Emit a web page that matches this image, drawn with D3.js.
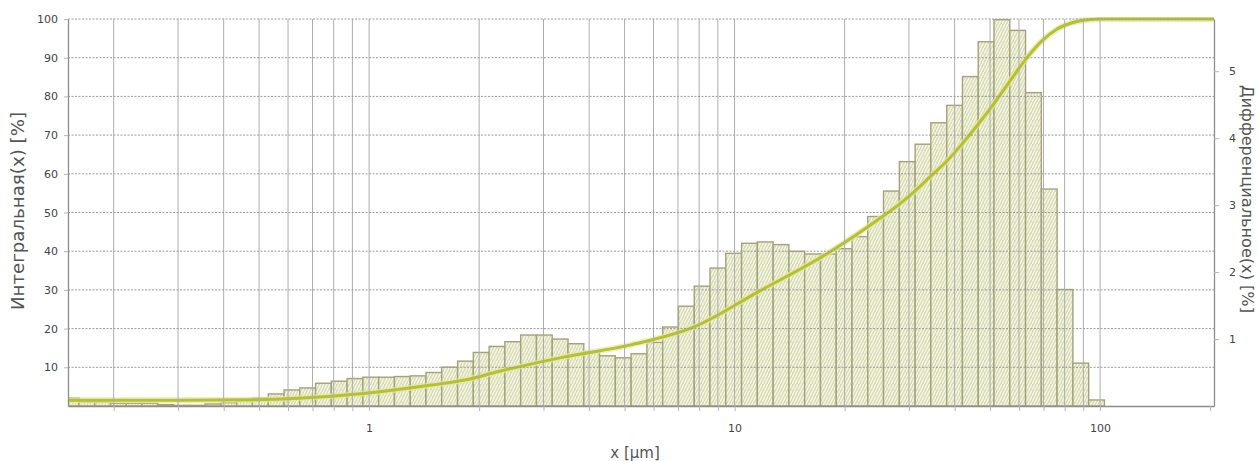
<!DOCTYPE html>
<html>
<head>
<meta charset="utf-8">
<script src="https://cdn.jsdelivr.net/npm/d3@7"></script>
<style>
  body { margin: 0; background: #fff; }
  svg text { font-family: "DejaVu Sans", Verdana, sans-serif; }
</style>
</head>
<body>
<svg id="chart"></svg>
<script>
// bin edges of the histogram [um]
const binEdges = [0.1455, 0.1607, 0.1775, 0.1960, 0.2165, 0.2391, 0.2641, 0.2917, 0.3222, 0.3558,
  0.3930, 0.4341, 0.4794, 0.5297, 0.5850, 0.6461, 0.7137, 0.7882, 0.8705, 0.9616,
  1.062, 1.173, 1.296, 1.431, 1.580, 1.746, 1.928, 2.130, 2.352, 2.598,
  2.870, 3.170, 3.501, 3.867, 4.271, 4.718, 5.211, 5.755, 6.357, 7.021,
  7.755, 8.565, 9.460, 10.45, 11.54, 12.75, 14.08, 15.55, 17.18, 18.97,
  20.96, 23.14, 25.56, 28.24, 31.19, 34.44, 38.05, 42.02, 46.41, 51.26,
  56.62, 62.53, 69.07, 76.29, 84.26, 93.07, 102.8];

// differential values per bin [%] (right axis)
const diffValues = [0.12, 0.06, 0.06, 0.04, 0.04, 0.04, 0.02, 0.01, 0.01, 0.03,
  0.05, 0.08, 0.12, 0.18, 0.24, 0.27, 0.34, 0.37, 0.41, 0.43,
  0.43, 0.44, 0.45, 0.50, 0.58, 0.67, 0.80, 0.89, 0.96, 1.06,
  1.06, 1.00, 0.93, 0.81, 0.75, 0.72, 0.78, 0.95, 1.18, 1.49,
  1.79, 2.06, 2.28, 2.43, 2.45, 2.41, 2.31, 2.27, 2.27, 2.35,
  2.53, 2.83, 3.21, 3.65, 3.91, 4.23, 4.49, 4.92, 5.44, 5.77,
  5.61, 4.68, 3.24, 1.74, 0.64, 0.09];

// cumulative curve (left axis)
const cumX = [0.145, 0.3, 0.47, 0.64, 0.98, 1.48, 1.83, 2.26, 3.43, 5.2,
  7.78, 11.6, 18.3, 25, 28.2, 31.2, 34.4, 38.1, 42.0, 46.4, 51.3, 56.6, 62.5,
  69.1, 76.3, 84.3, 93, 100, 205];
const cumY = [1.5, 1.5, 1.6, 2.0, 3.3, 5.4, 6.7, 8.9, 12.7, 15.8,
  20.5, 29.5, 39.9, 48.5, 52.1, 55.6, 59.4, 63.3, 67.8, 72.8, 78.2, 83.9, 89.5,
  94.2, 97.4, 99.1, 99.8, 100, 100];

const leftTicks = [10, 20, 30, 40, 50, 60, 70, 80, 90, 100];
const rightTicks = [1, 2, 3, 4, 5];
const xLabelTicks = [1, 10, 100];
const xGridTicks = [0.2, 0.3, 0.4, 0.5, 0.6, 0.7, 0.8, 0.9, 1, 2, 3, 4, 5, 6, 7, 8, 9,
  10, 20, 30, 40, 50, 60, 70, 80, 90, 100];

const width = 1259, height = 461;
const plotLeft = 68, plotRight = 1214, plotTop = 19, plotBottom = 406;

const svg = d3.select("#chart").attr("width", width).attr("height", height);

const x = d3.scaleLog().domain([0.15, 205]).range([plotLeft, plotRight]);
const yL = d3.scaleLinear().domain([0, 100]).range([plotBottom, plotTop]);
const yR = d3.scaleLinear().domain([0, 5.78]).range([plotBottom, plotTop]);

// fill pattern for the bars
const defs = svg.append("defs");
const pat = defs.append("pattern")
  .attr("id", "weave")
  .attr("patternUnits", "userSpaceOnUse")
  .attr("width", 6).attr("height", 6);
pat.append("rect").attr("width", 6).attr("height", 6).attr("fill", "#d8dcb2");
pat.append("path")
  .attr("d", "M0,6 L3,0 M3,6 L6,0")
  .attr("stroke", "#f6f7ea").attr("stroke-width", 1.4);

defs.append("clipPath").attr("id", "plotClip")
  .append("rect").attr("x", plotLeft).attr("y", plotTop - 2)
  .attr("width", plotRight - plotLeft).attr("height", plotBottom - plotTop + 2);

const bins = diffValues.map((v, i) => ({ x0: binEdges[i], x1: binEdges[i + 1], v }));

const plot = svg.append("g").attr("clip-path", "url(#plotClip)");

plot.selectAll("rect.bar")
  .data(bins)
  .join("rect")
  .attr("class", "bar")
  .attr("x", d => x(d.x0))
  .attr("y", d => yR(d.v))
  .attr("width", d => x(d.x1) - x(d.x0))
  .attr("height", d => plotBottom - yR(d.v))
  .attr("fill", "url(#weave)")
  .attr("stroke", "#a3a27c")
  .attr("stroke-width", 1.4);

// grid
svg.append("g").selectAll("line")
  .data(xGridTicks)
  .join("line")
  .attr("x1", d => x(d)).attr("x2", d => x(d))
  .attr("y1", plotTop).attr("y2", plotBottom)
  .attr("stroke", "#adadad")
  .attr("stroke-width", 1);

svg.append("g").selectAll("line")
  .data(leftTicks)
  .join("line")
  .attr("x1", plotLeft).attr("x2", plotRight)
  .attr("y1", d => yL(d)).attr("y2", d => yL(d))
  .attr("stroke", "#9a9a9a")
  .attr("stroke-dasharray", "2,1.5")
  .attr("stroke-width", 1);

// cumulative line
const line = d3.line()
  .x(d => x(d))
  .y((d, i) => yL(cumY[i]))
  .curve(d3.curveMonotoneX);

plot.append("path")
  .attr("d", line(cumX))
  .attr("fill", "none")
  .attr("stroke", "#e3e7a8")
  .attr("stroke-width", 6)
  .attr("opacity", 0.7);

plot.append("path")
  .attr("d", line(cumX))
  .attr("fill", "none")
  .attr("stroke", "#b7c12c")
  .attr("stroke-width", 3);

// axes
const axisColor = "#8c8c8c";

const leftAxis = svg.append("g")
  .attr("transform", `translate(${plotLeft},0)`)
  .call(d3.axisLeft(yL).tickValues(leftTicks).tickSize(4).tickSizeOuter(0).tickPadding(6));

const rightAxis = svg.append("g")
  .attr("transform", `translate(${plotRight},0)`)
  .call(d3.axisRight(yR).tickValues(rightTicks).tickSize(5).tickSizeOuter(0).tickPadding(10)
    .tickFormat(d3.format("d")));

const bottomAxis = svg.append("g")
  .attr("transform", `translate(0,${plotBottom})`)
  .call(d3.axisBottom(x).tickValues(xGridTicks.concat([200])).tickSize(5).tickSizeOuter(0).tickPadding(13)
    .tickFormat(d => xLabelTicks.includes(d) ? d3.format("d")(d) : ""));

[leftAxis, rightAxis, bottomAxis].forEach(g => {
  g.select(".domain").attr("stroke", axisColor).attr("stroke-width", 1.3);
  g.selectAll(".tick line").attr("stroke", "#b5b5b5");
  g.selectAll(".tick text").attr("fill", "#444").style("font-size", "11px");
});

// axis titles
svg.append("text")
  .attr("transform", "translate(24,211) rotate(-90)")
  .attr("text-anchor", "middle")
  .attr("fill", "#555")
  .attr("textLength", 198)
  .attr("lengthAdjust", "spacingAndGlyphs")
  .style("font-size", "17px")
  .text("Интегральная(x) [%]");

svg.append("text")
  .attr("transform", "translate(1242,199) rotate(90)")
  .attr("text-anchor", "middle")
  .attr("fill", "#555")
  .attr("textLength", 228)
  .attr("lengthAdjust", "spacingAndGlyphs")
  .style("font-size", "16px")
  .text("Дифференциальное(x) [%]");

svg.append("text")
  .attr("x", 635)
  .attr("y", 458)
  .attr("text-anchor", "middle")
  .attr("fill", "#555")
  .style("font-size", "15px")
  .text("x [µm]");
</script>
</body>
</html>
